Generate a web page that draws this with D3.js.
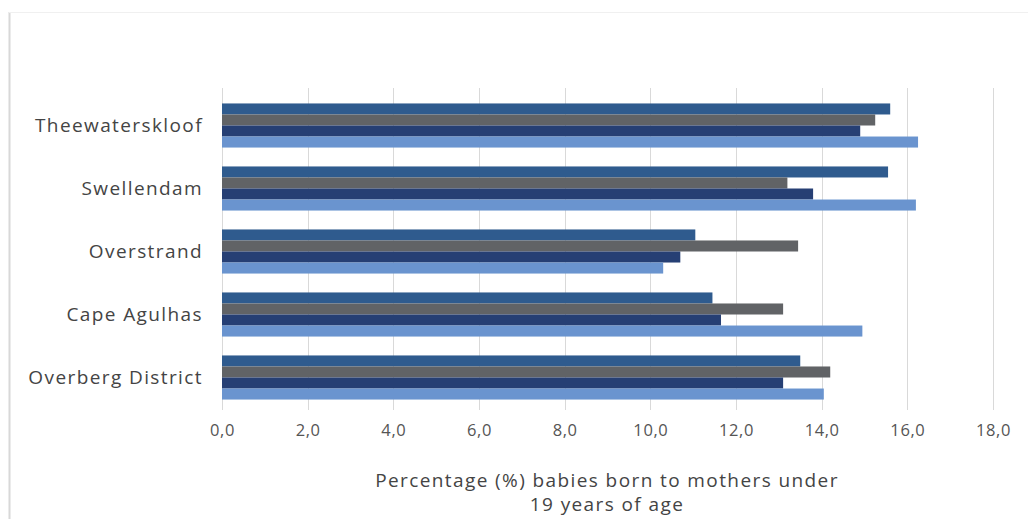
<!DOCTYPE html>
<html>
<head>
<meta charset="utf-8">
<script src="https://cdn.jsdelivr.net/npm/d3@7"></script>
<style>
  html, body { margin: 0; padding: 0; background: #ffffff; }
  svg { display: block; }
  text { font-family: "Open Sans", "Noto Sans", sans-serif; }
</style>
</head>
<body>
<svg id="chart" width="1028" height="519"></svg>
<script>
// Municipalities, top to bottom
const categories = ["Theewaterskloof", "Swellendam", "Overstrand", "Cape Agulhas", "Overberg District"];

// Four reporting periods, in bar order within each group
const series1 = [15.6, 15.55, 11.05, 11.45, 13.5];
const series2 = [15.25, 13.2, 13.45, 13.1, 14.2];
const series3 = [14.9, 13.8, 10.7, 11.65, 13.1];
const series4 = [16.25, 16.2, 10.3, 14.95, 14.05];

const seriesKeys = ["s1", "s2", "s3", "s4"];
const seriesValues = [series1, series2, series3, series4];
const seriesColors = ["#2f5b8e", "#616366", "#263f74", "#6a94cf"];

const tickValues = [0, 2, 4, 6, 8, 10, 12, 14, 16, 18];
const axisTitle = ["Percentage (%) babies born to mothers under", "19 years of age"];

const svg = d3.select("#chart");

// Outer frame
svg.append("line").attr("x1", 9.5).attr("x2", 9.5).attr("y1", 12).attr("y2", 519)
  .attr("stroke", "#d8d8d8").attr("stroke-width", 2);
svg.append("line").attr("x1", 9).attr("x2", 1028).attr("y1", 12.5).attr("y2", 12.5)
  .attr("stroke", "#f0f0f0").attr("stroke-width", 1);

const x = d3.scaleLinear().domain([0, 18]).range([222, 993]);
const y = d3.scaleBand().domain(categories).range([94, 409]).paddingInner(0.3).paddingOuter(0.15);
const ySub = d3.scaleBand().domain(seriesKeys).range([0, y.bandwidth()]).padding(0);

// Vertical gridlines
svg.append("g")
  .selectAll("line")
  .data(tickValues)
  .join("line")
  .attr("x1", d => Math.round(x(d)) + 0.5)
  .attr("x2", d => Math.round(x(d)) + 0.5)
  .attr("y1", 88)
  .attr("y2", 410)
  .attr("stroke", "#d9d9d9")
  .attr("stroke-width", 1);

// Bars
const rows = categories.map((c, i) => ({
  category: c,
  values: seriesKeys.map((k, j) => ({ key: k, value: seriesValues[j][i], color: seriesColors[j] }))
}));

svg.append("g")
  .selectAll("g")
  .data(rows)
  .join("g")
  .attr("transform", d => `translate(0,${y(d.category)})`)
  .selectAll("rect")
  .data(d => d.values)
  .join("rect")
  .attr("x", x(0))
  .attr("y", d => ySub(d.key))
  .attr("width", d => x(d.value) - x(0))
  .attr("height", ySub.bandwidth())
  .attr("fill", d => d.color);

// X axis labels
const xAxis = d3.axisBottom(x)
  .tickValues(tickValues)
  .tickSize(0)
  .tickPadding(0)
  .tickFormat(d => d3.format(".1f")(d).replace(".", ","));

const gx = svg.append("g").attr("transform", "translate(0,424)").call(xAxis);
gx.select(".domain").remove();
gx.selectAll("text")
  .attr("fill", "#555555")
  .attr("font-size", 16.5)
  .attr("letter-spacing", 0.6)
  .attr("dy", "0.71em");

// Category labels
const yAxis = d3.axisLeft(y).tickSize(0).tickPadding(19);
const gy = svg.append("g").attr("transform", `translate(${x(0)},0)`).call(yAxis);
gy.select(".domain").remove();
gy.selectAll("text")
  .attr("fill", "#444444")
  .attr("font-size", 19)
  .attr("letter-spacing", 1.4);

// Axis title
svg.append("text")
  .attr("x", 607)
  .attr("y", 487)
  .attr("text-anchor", "middle")
  .attr("fill", "#444444")
  .attr("font-size", 19)
  .attr("letter-spacing", 1.4)
  .selectAll("tspan")
  .data(axisTitle)
  .join("tspan")
  .attr("x", 607)
  .attr("dy", (d, i) => i === 0 ? 0 : 24)
  .text(d => d);
</script>
</body>
</html>
